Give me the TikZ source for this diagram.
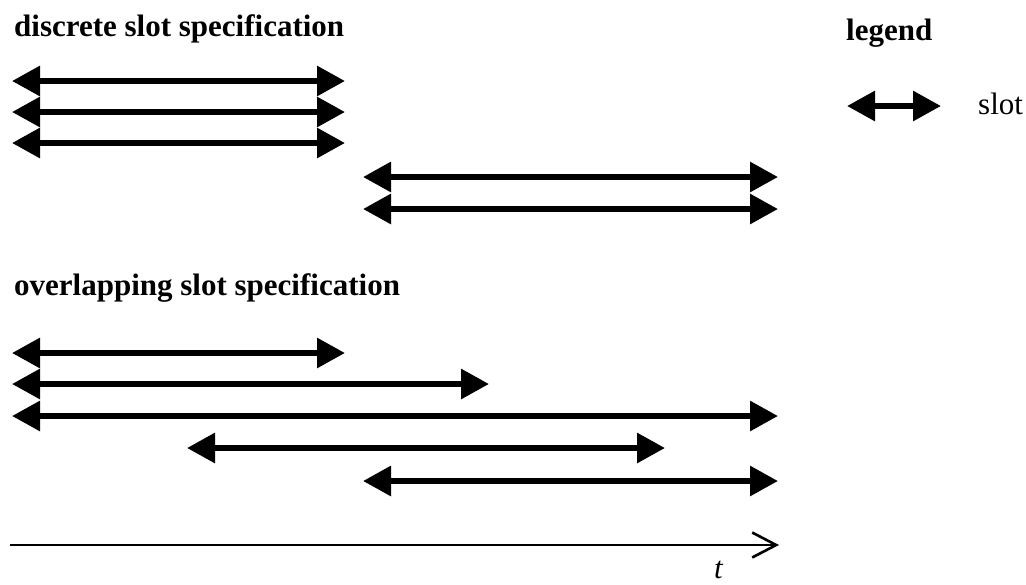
\documentclass[tikz,border=0pt]{standalone}
\usepackage{fontspec}
\setmainfont{Liberation Serif}
\usetikzlibrary{arrows.meta}
\begin{document}
\begin{tikzpicture}[x=1pt,y=-1pt,
  slothead/.tip={Triangle[length=28pt,width=29pt]},
  slotarrow/.style={line width=6pt,{slothead}-{slothead}},
  heading/.style={anchor=base west,inner sep=0pt,font=\fontsize{31}{36}\selectfont\bfseries},
  plain/.style={anchor=base west,inner sep=0pt,font=\fontsize{31}{36}\selectfont},
  timeaxis/.style={line width=2pt,-{Straight Barb[length=24pt,width=25pt,line width=2.6pt]}}]
\useasboundingbox (0,0) rectangle (1026,584);

% headings
\node[heading] (hdisc) at (14,36.5) {discrete slot specification};
\node[heading] (hover) at (14,295) {overlapping slot specification};
\node[heading] (hleg) at (846,40) {legend};

% legend entry
\coordinate (leg-s) at (847,106);
\coordinate (leg-e) at (941,106);
\draw[slotarrow] (leg-s) -- (leg-e);
\node[plain] (lslot) at (978,114) {slot};

% slots: name / row / start / end
\foreach \n/\y/\xa/\xb in {
  d1/81/12/345, d2/112/12/345, d3/143/12/345,
  d4/177/363/778, d5/209/363/778,
  o1/353/12/345, o2/384/12/489, o3/416/12/778,
  o4/448/187/665, o5/481/363/778}{
  \coordinate (\n-s) at (\xa,\y);
  \coordinate (\n-e) at (\xb,\y);
  \draw[slotarrow] (\n-s) -- (\n-e);
}

% time axis
\coordinate (ax-s) at (10,545);
\coordinate (ax-e) at (779,545);
\draw[timeaxis] (ax-s) -- (ax-e);
\node[plain,font=\fontsize{31}{36}\selectfont\itshape] (tlab) at (714,578) {t};
\end{tikzpicture}
\end{document}
